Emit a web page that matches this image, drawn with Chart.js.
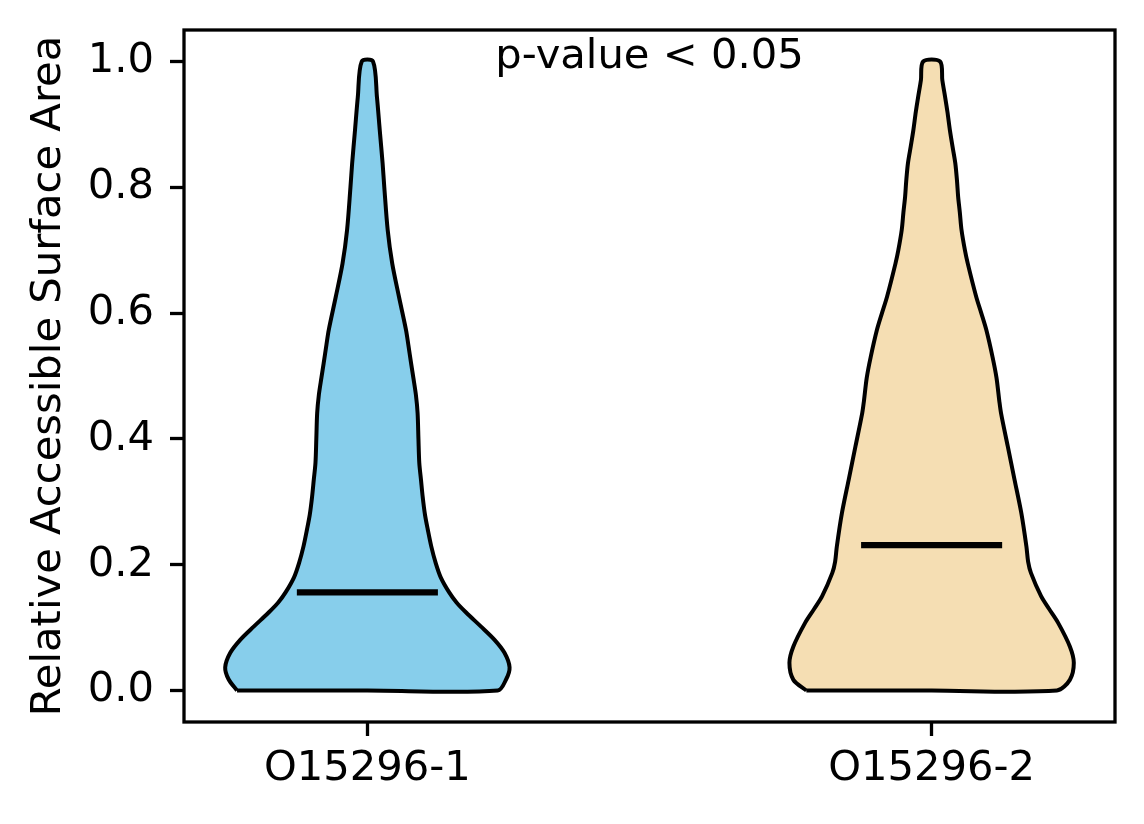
<!DOCTYPE html>
<html>
<head>
<meta charset="utf-8">
<script src="https://cdn.jsdelivr.net/npm/chart.js@4.4.1/dist/chart.umd.min.js"></script>
<style>
  body { margin: 0; background: #fff; }
  #wrap { width: 1144px; height: 824px; }
</style>
</head>
<body>
<div id="wrap"><canvas id="violinChart" width="1144" height="824"></canvas></div>
<script>
// categories and summary values
var categories = ['O15296-1', 'O15296-2'];
var positions = [1, 2];
var medians = [0.156, 0.231];
var yTicks = [0.0, 0.2, 0.4, 0.6, 0.8, 1.0];

// violin outlines: level (RASA) and half width (x units)
var blueLevels = [0.000, 0.018, 0.037, 0.060, 0.081, 0.102, 0.124, 0.140, 0.156, 0.180, 0.203, 0.230, 0.256, 0.280, 0.308, 0.335, 0.362, 0.400, 0.441, 0.470, 0.497, 0.520, 0.550, 0.573, 0.626, 0.679, 0.732, 0.800, 0.838, 0.890, 0.943, 1.000];
var blueHalfWidth = [0.231, 0.246, 0.252, 0.243, 0.225, 0.201, 0.175, 0.158, 0.145, 0.130, 0.121, 0.113, 0.107, 0.102, 0.098, 0.095, 0.092, 0.0905, 0.089, 0.086, 0.0815, 0.0775, 0.0725, 0.0685, 0.056, 0.044, 0.036, 0.030, 0.027, 0.022, 0.017, 0.010];

var orangeLevels = [0.000, 0.017, 0.044, 0.070, 0.108, 0.130, 0.150, 0.187, 0.205, 0.229, 0.282, 0.335, 0.388, 0.441, 0.460, 0.497, 0.530, 0.573, 0.600, 0.626, 0.679, 0.700, 0.732, 0.760, 0.785, 0.810, 0.838, 0.865, 0.890, 0.920, 0.943, 0.970, 1.000];
var orangeHalfWidth = [0.222, 0.245, 0.252, 0.245, 0.224, 0.208, 0.194, 0.176, 0.171, 0.168, 0.159, 0.147, 0.135, 0.123, 0.120, 0.115, 0.108, 0.097, 0.088, 0.079, 0.064, 0.059, 0.053, 0.050, 0.047, 0.045, 0.042, 0.037, 0.0325, 0.028, 0.024, 0.019, 0.015];

var colors = ['#87CEEB', '#F5DEB3'];
var medianHalfLen = 0.125;

function outline(center, levels, half) {
    var pts = [];
    for (var i = 0; i < levels.length; i++) {
        pts.push({x: center - half[i], y: levels[i]});
    }
    for (var j = levels.length - 1; j >= 0; j--) {
        pts.push({x: center + half[j], y: levels[j]});
    }
    // keep the bottom edge flat
    pts.push({x: center, y: levels[0]});
    pts.push({x: center - half[0], y: levels[0]});
    return pts;
}

var shapes = [
    outline(positions[0], blueLevels, blueHalfWidth),
    outline(positions[1], orangeLevels, orangeHalfWidth)
];

var datasets = [];
shapes.forEach(function(pts, i) {
    datasets.push({
        label: categories[i],
        data: pts,
        showLine: true,
        fill: 'shape',
        backgroundColor: colors[i],
        borderColor: '#000',
        borderWidth: 4,
        borderJoinStyle: 'round',
        pointRadius: 0,
        tension: 0.3,
        order: 2
    });
});
medians.forEach(function(m, i) {
    datasets.push({
        label: categories[i] + ' median',
        data: [{x: positions[i] - medianHalfLen, y: m}, {x: positions[i] + medianHalfLen, y: m}],
        showLine: true,
        fill: false,
        borderColor: '#000',
        borderWidth: 6.25,
        borderCapStyle: 'butt',
        pointRadius: 0,
        order: 1
    });
});

var frameAndNote = {
    id: 'frameAndNote',
    afterDraw: function(chart) {
        var a = chart.chartArea;
        var c = chart.ctx;
        c.save();
        c.strokeStyle = '#000';
        c.lineWidth = 3.3;
        c.strokeRect(a.left, a.top, a.right - a.left, a.bottom - a.top);
        c.fillStyle = '#000';
        c.font = '41.7px "DejaVu Sans"';
        c.textAlign = 'center';
        c.textBaseline = 'alphabetic';
        c.fillText('p-value < 0.05', (a.left + a.right) / 2, 67.7);
        c.restore();
    }
};

var tickFont = {family: 'DejaVu Sans', size: 41.7};

new Chart(document.getElementById('violinChart').getContext('2d'), {
    type: 'scatter',
    data: {datasets: datasets},
    options: {
        responsive: false,
        animation: false,
        devicePixelRatio: 1,
        layout: {padding: {top: 30, right: 29, left: 0, bottom: 0}},
        plugins: {
            legend: {display: false},
            tooltip: {enabled: false}
        },
        scales: {
            x: {
                type: 'linear',
                min: 0.675,
                max: 2.325,
                afterBuildTicks: function(scale) {
                    scale.ticks = positions.map(function(p) { return {value: p}; });
                },
                afterFit: function(scale) {
                    scale.height = 102;
                    scale.paddingLeft = 0;
                    scale.paddingRight = 0;
                },
                border: {display: false},
                grid: {drawOnChartArea: false, drawTicks: true, tickLength: 14, tickWidth: 3.3, tickColor: '#000'},
                ticks: {
                    color: '#000',
                    font: tickFont,
                    padding: 8,
                    maxRotation: 0,
                    callback: function(value) { return categories[positions.indexOf(value)]; }
                }
            },
            y: {
                min: -0.05,
                max: 1.05,
                afterBuildTicks: function(scale) {
                    scale.ticks = yTicks.map(function(v) { return {value: v}; });
                },
                afterFit: function(scale) {
                    scale.width = 184;
                    scale.paddingTop = 0;
                    scale.paddingBottom = 0;
                },
                border: {display: false},
                grid: {drawOnChartArea: false, drawTicks: true, tickLength: 14, tickWidth: 3.3, tickColor: '#000'},
                ticks: {
                    color: '#000',
                    font: tickFont,
                    padding: 16,
                    callback: function(value) { return value.toFixed(1); }
                },
                title: {
                    display: true,
                    text: 'Relative Accessible Surface Area',
                    color: '#000',
                    font: tickFont,
                    padding: {top: 24, bottom: 0}
                }
            }
        }
    },
    plugins: [frameAndNote]
});
</script>
</body>
</html>
